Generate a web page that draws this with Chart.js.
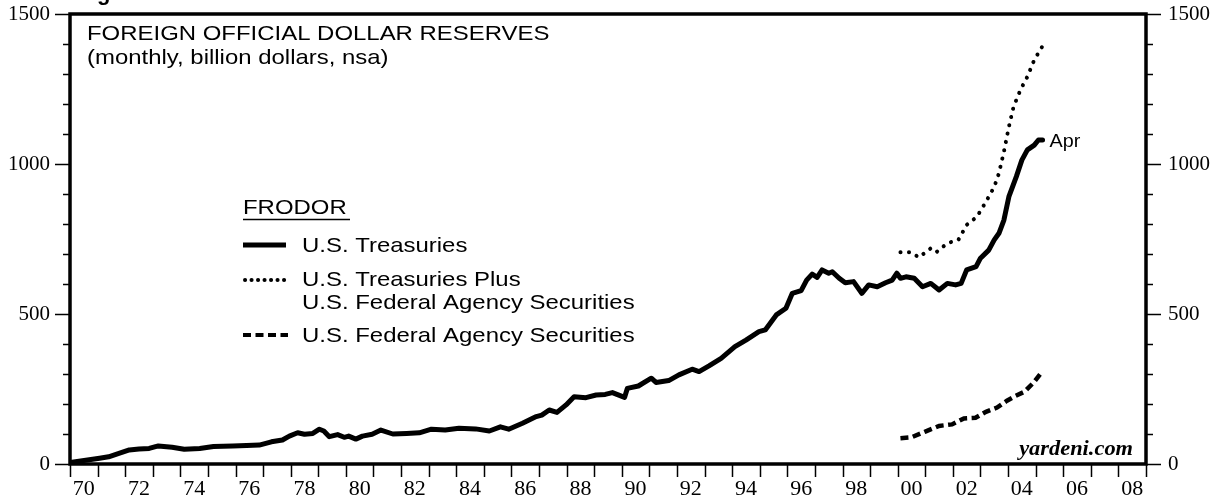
<!DOCTYPE html>
<html>
<head>
<meta charset="utf-8">
<script src="https://cdn.jsdelivr.net/npm/chart.js@4"></script>
<style>
  html, body { margin: 0; padding: 0; background: #fff; }
  canvas { display: block; }
</style>
</head>
<body>
<canvas id="chart-reserves" width="1227" height="497"></canvas>
<script>
// Foreign official dollar reserves (FRODOR), billion dollars, nsa.
// Values; x is the decimal year.

const treasuryYears = [
    1970.0, 1971.07, 1971.4, 1971.8, 1972.15, 1972.5, 1972.87, 1973.1, 1973.2, 1973.7,
    1974.14, 1974.7, 1975.2, 1975.9, 1976.4, 1976.86, 1977.3, 1977.7, 1977.95, 1978.25,
    1978.5, 1978.8, 1979.04, 1979.2, 1979.4, 1979.7, 1979.94, 1980.1, 1980.36, 1980.6,
    1980.95, 1981.27, 1981.7, 1982.2, 1982.66, 1983.1, 1983.6, 1984.1, 1984.7, 1985.2,
    1985.6, 1985.9, 1986.4, 1986.9, 1987.1, 1987.37, 1987.65, 1987.98, 1988.27, 1988.7,
    1989.07, 1989.4, 1989.66, 1990.1, 1990.2, 1990.6, 1991.07, 1991.24, 1991.7, 1992.07,
    1992.55, 1992.8, 1993.16, 1993.6, 1994.1, 1994.5, 1994.97, 1995.2, 1995.6, 1995.95,
    1996.18, 1996.5, 1996.7, 1996.9, 1997.08, 1997.26, 1997.5, 1997.63, 1997.88, 1998.1,
    1998.4, 1998.7, 1998.95, 1999.26, 1999.56, 1999.8, 1999.97, 2000.1, 2000.3, 2000.6,
    2000.9, 2001.2, 2001.5, 2001.8, 2002.1, 2002.3, 2002.5, 2002.84, 2003.0, 2003.3,
    2003.5, 2003.67, 2003.85, 2004.03, 2004.3, 2004.5, 2004.7, 2004.95, 2005.1, 2005.25,
];
const treasuryValues = [
    5, 19, 24, 36, 47, 50, 52, 58, 60, 56,
    49, 52, 58, 60, 62, 63, 74, 80, 93, 104,
    99, 102, 116, 110, 91, 98, 89, 93, 83, 93,
    99, 113, 100, 102, 104, 116, 113, 119, 117, 110,
    124, 116, 136, 158, 163, 180, 172, 197, 224, 221,
    230, 232, 238, 222, 252, 260, 286, 272, 278, 297,
    316, 308, 327, 352, 391, 413, 441, 447, 497, 519,
    569, 578, 613, 633, 622, 647, 636, 641, 619, 604,
    608, 569, 597, 591, 604, 613, 636, 619, 624, 619,
    591, 602, 580, 602, 597, 602, 647, 658, 686, 713,
    747, 769, 813, 891, 958, 1013, 1047, 1063, 1080, 1080,
];

const totalYears = [
    2000.1, 2000.46, 2000.77, 2001.2, 2001.4, 2001.8, 2002.2, 2002.5, 2002.87, 2003.2,
    2003.5, 2003.67, 2003.85, 2004.03, 2004.2, 2004.45, 2004.7, 2004.95, 2005.25,
];
const totalValues = [
    706, 706, 689, 719, 706, 736, 747, 797, 824, 874,
    924, 969, 1041, 1124, 1191, 1247, 1291, 1347, 1393,
];

const agencyYears = [
    2000.1, 2000.5, 2001.0, 2001.5, 2001.97, 2002.4, 2002.82, 2003.2, 2003.6, 2003.96,
    2004.27, 2004.6, 2004.95, 2005.25,
];
const agencyValues = [
    86, 89, 108, 127, 132, 152, 154, 174, 188, 211,
    227, 241, 274, 310,
];

const yearLabels = ['70', '72', '74', '76', '78', '80', '82', '84', '86', '88',
    '90', '92', '94', '96', '98', '00', '02', '04', '06', '08'];
const yTickLabels = [0, 500, 1000, 1500];

const SANS = '"Liberation Sans", Arial, sans-serif';
const SERIF = '"Liberation Serif", "Times New Roman", serif';
const STRETCH = 1.14;   // the original type is set a bit wide

function toPoints(xs, ys) {
    return xs.map((x, i) => ({ x: x, y: ys[i] }));
}

function wideText(ctx, text, x, y, sx) {
    ctx.save();
    ctx.translate(x, y);
    ctx.scale(sx, 1);
    ctx.fillText(text, 0, 0);
    ctx.restore();
}

// frame, tick marks, titles, legend and credit
const decorPlugin = {
    id: 'decor',
    beforeDatasetsDraw(chart) {
        const ctx = chart.ctx;
        const a = chart.chartArea;
        const x = chart.scales.x;
        const y = chart.scales.y;
        ctx.save();
        ctx.strokeStyle = '#000';
        ctx.lineWidth = 1.5;
        ctx.beginPath();
        for (let v = 0; v <= 1500; v += 100) {
            const py = Math.round(y.getPixelForValue(v)) + 0.5;
            const len = v % 500 === 0 ? 15 : 7;
            ctx.moveTo(a.left - len, py);
            ctx.lineTo(a.left, py);
            ctx.moveTo(a.right, py);
            ctx.lineTo(a.right + len, py);
        }
        for (let yr = 1970; yr <= 2009; yr++) {
            const px = Math.round(x.getPixelForValue(yr)) + 0.5;
            ctx.moveTo(px, a.bottom);
            ctx.lineTo(px, a.bottom + 13);
        }
        ctx.stroke();
        ctx.restore();
    },
    afterDatasetsDraw(chart) {
        const ctx = chart.ctx;
        const a = chart.chartArea;
        ctx.save();
        ctx.strokeStyle = '#000';
        ctx.lineWidth = 3.5;
        ctx.strokeRect(a.left, a.top, a.right - a.left, a.bottom - a.top);

        ctx.fillStyle = '#000';
        ctx.textAlign = 'left';
        ctx.textBaseline = 'alphabetic';

        // cut-off figure caption above the frame
        ctx.font = 'bold 22px ' + SANS;
        ctx.fillText('g', 97, 0);

        ctx.font = '21px ' + SANS;
        wideText(ctx, 'FOREIGN OFFICIAL DOLLAR RESERVES', 87, 40, STRETCH);
        wideText(ctx, '(monthly, billion dollars, nsa)', 87, 64, STRETCH);

        // legend
        wideText(ctx, 'FRODOR', 243, 214, STRETCH);
        ctx.lineWidth = 1.3;
        ctx.beginPath();
        ctx.moveTo(243, 219.5);
        ctx.lineTo(350, 219.5);
        ctx.stroke();

        wideText(ctx, 'U.S. Treasuries', 302, 252, STRETCH);
        wideText(ctx, 'U.S. Treasuries Plus', 302, 286, STRETCH);
        wideText(ctx, 'U.S. Federal Agency Securities', 302, 309, STRETCH);
        wideText(ctx, 'U.S. Federal Agency Securities', 302, 342, STRETCH);

        ctx.lineWidth = 5;
        ctx.beginPath();
        ctx.moveTo(243, 245);
        ctx.lineTo(286, 245);
        ctx.stroke();

        ctx.lineWidth = 4;
        ctx.lineCap = 'round';
        ctx.setLineDash([0.1, 6.4]);
        ctx.beginPath();
        ctx.moveTo(245, 280);
        ctx.lineTo(285, 280);
        ctx.stroke();

        ctx.lineCap = 'butt';
        ctx.setLineDash([8, 4.5]);
        ctx.beginPath();
        ctx.moveTo(243, 335);
        ctx.lineTo(288, 335);
        ctx.stroke();
        ctx.setLineDash([]);

        // end label
        const last = treasuryYears.length - 1;
        const ex = chart.scales.x.getPixelForValue(treasuryYears[last]);
        const ey = chart.scales.y.getPixelForValue(treasuryValues[last]);
        ctx.font = '18px ' + SANS;
        ctx.textBaseline = 'middle';
        wideText(ctx, 'Apr', ex + 7, ey + 2, 1.1);

        ctx.font = 'bold italic 20px ' + SERIF;
        ctx.textAlign = 'right';
        ctx.textBaseline = 'alphabetic';
        wideText(ctx, 'yardeni.com', 1133, 455, 1.12);
        ctx.restore();
    },
};

const yAxisCommon = {
    type: 'linear',
    min: 0,
    max: 1500,
    grid: { display: false, drawTicks: false },
    border: { display: false },
    afterBuildTicks: scale => {
        scale.ticks = yTickLabels.map(v => ({ value: v }));
    },
};

function fixWidth(w) {
    return scale => {
        scale.width = w;
        scale.paddingTop = 0;
        scale.paddingBottom = 0;
    };
}

new Chart(document.getElementById('chart-reserves'), {
    type: 'line',
    data: {
        datasets: [
            {
                label: 'U.S. Treasuries',
                data: toPoints(treasuryYears, treasuryValues),
                borderColor: '#000',
                borderWidth: 5,
                borderJoinStyle: 'round',
                borderCapStyle: 'round',
                pointRadius: 0,
                tension: 0,
            },
            {
                label: 'U.S. Treasuries Plus U.S. Federal Agency Securities',
                data: toPoints(totalYears, totalValues),
                borderColor: '#000',
                borderWidth: 4,
                borderCapStyle: 'round',
                borderDash: [0.1, 8.4],
                pointRadius: 0,
                tension: 0,
            },
            {
                label: 'U.S. Federal Agency Securities',
                data: toPoints(agencyYears, agencyValues),
                borderColor: '#000',
                borderWidth: 4.5,
                borderDash: [8, 4.5],
                pointRadius: 0,
                tension: 0,
            },
        ],
    },
    options: {
        responsive: false,
        animation: false,
        layout: { padding: { top: 14, left: 0, right: 0, bottom: 0 } },
        plugins: {
            legend: { display: false },
            tooltip: { enabled: false },
        },
        scales: {
            x: {
                type: 'linear',
                position: 'bottom',
                min: 1970,
                max: 2009,
                grid: { display: false, drawTicks: false },
                border: { display: false },
                afterBuildTicks: scale => {
                    scale.ticks = yearLabels.map((lab, i) => ({ value: 1970.5 + i * 2 }));
                },
                afterFit: scale => {
                    scale.height = 33;
                    scale.paddingLeft = 0;
                    scale.paddingRight = 0;
                },
                ticks: {
                    autoSkip: false,
                    maxRotation: 0,
                    padding: 12,
                    color: '#000',
                    font: { family: SERIF, size: 22 },
                    callback: (val, idx) => yearLabels[idx],
                },
            },
            y: Object.assign({}, yAxisCommon, {
                position: 'left',
                afterFit: fixWidth(70),
                ticks: {
                    padding: 20,
                    color: '#000',
                    font: { family: SERIF, size: 21 },
                    callback: val => String(val),
                },
            }),
            y2: Object.assign({}, yAxisCommon, {
                position: 'right',
                afterFit: fixWidth(81),
                ticks: {
                    padding: 22,
                    color: '#000',
                    font: { family: SERIF, size: 21 },
                    callback: val => String(val),
                },
            }),
        },
    },
    plugins: [decorPlugin],
});
</script>
</body>
</html>
